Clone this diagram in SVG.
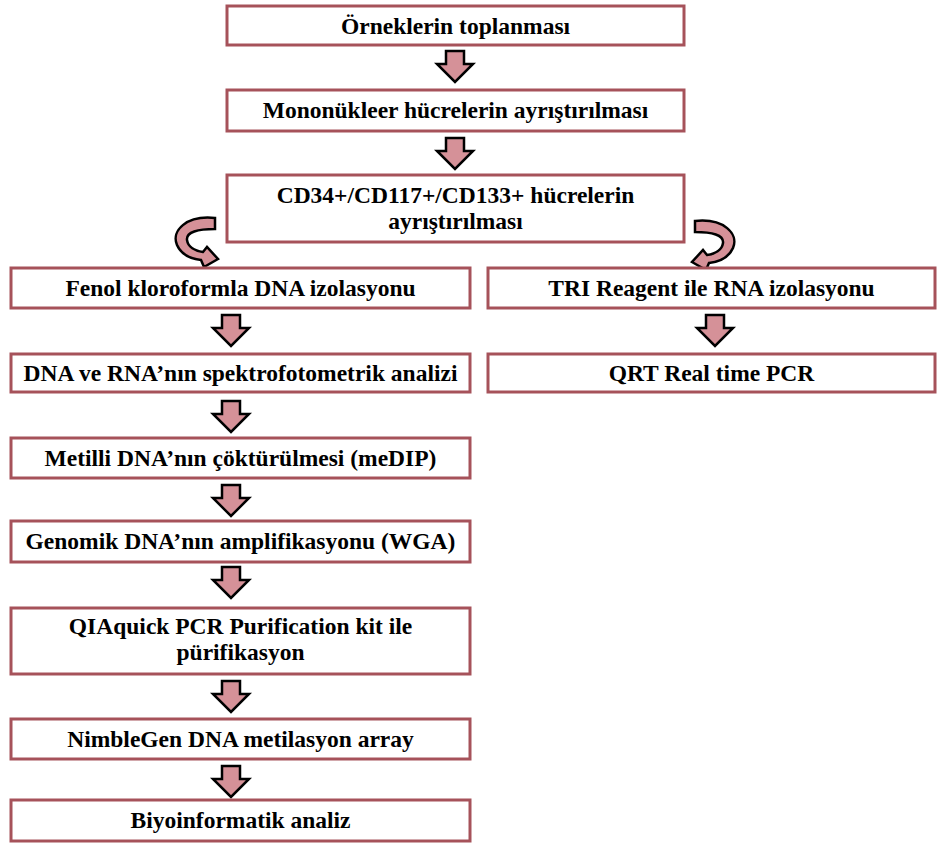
<svg xmlns="http://www.w3.org/2000/svg" xmlns:xlink="http://www.w3.org/1999/xlink" width="939" height="844" viewBox="0 0 939 844">
  <style>
    .box { fill: #ffffff; stroke: #a6525a; stroke-width: 3; }
    .lbl { font-family: "Liberation Serif", "Times New Roman", serif; font-weight: bold; font-size: 23.5px; fill: #000000; text-anchor: middle; }
    .arr { fill: #d59198; stroke: #000000; stroke-width: 2.5; stroke-linejoin: miter; }
  </style>
  <defs>
    <!-- block arrow pointing down, origin at top centre -->
    <path id="down" class="arr" d="M -9 0 H 9 V 13 H 18 L 0 31 L -18 13 H -9 Z"/>
    <!-- C-shaped curved arrow: leaves to the left, sweeps down, tip points right -->
    <path id="curl" class="arr" d="M 215 218 C 186 215 171 231 177 245 C 182 256 192 259 201 260 L 204 267 L 218 259 L 207 247 L 203 252 C 195 251 188 247 187 240 C 186 232 198 229 215 229 Z"/>
  </defs>
  <rect width="939" height="844" fill="#ffffff"/>

  <g id="connectors">
    <use xlink:href="#down" x="455" y="51"/>
    <use xlink:href="#down" x="455" y="138"/>
    <use xlink:href="#curl"/>
    <use xlink:href="#curl" transform="translate(910,3) scale(-1,1)"/>
    <use xlink:href="#down" x="231" y="315"/>
    <use xlink:href="#down" x="715" y="315"/>
    <use xlink:href="#down" x="231" y="401"/>
    <use xlink:href="#down" x="231" y="485"/>
    <use xlink:href="#down" x="231" y="567"/>
    <use xlink:href="#down" x="231" y="681"/>
    <use xlink:href="#down" x="231" y="766"/>
  </g>

  <g id="n-ornek">
    <rect class="box" x="227" y="6" width="457" height="39"/>
    <text class="lbl" x="455.5" y="33.5">Örneklerin toplanması</text>
  </g>
  <g id="n-mononukleer">
    <rect class="box" x="227" y="90" width="457" height="41"/>
    <text class="lbl" x="455.5" y="118">Mononükleer hücrelerin ayrıştırılması</text>
  </g>
  <g id="n-cd34">
    <rect class="box" x="227" y="175" width="457" height="67"/>
    <text class="lbl" x="455.5" y="203">CD34+/CD117+/CD133+ hücrelerin</text>
    <text class="lbl" x="455.5" y="229">ayrıştırılması</text>
  </g>
  <g id="n-fenol">
    <rect class="box" x="11" y="268" width="459" height="40"/>
    <text class="lbl" x="240.5" y="296">Fenol kloroformla DNA izolasyonu</text>
  </g>
  <g id="n-tri">
    <rect class="box" x="488" y="268" width="447" height="40"/>
    <text class="lbl" x="711.5" y="296">TRI Reagent ile RNA izolasyonu</text>
  </g>
  <g id="n-spektro">
    <rect class="box" x="11" y="354" width="459" height="38"/>
    <text class="lbl" x="240.5" y="381">DNA ve RNA’nın spektrofotometrik analizi</text>
  </g>
  <g id="n-qrt">
    <rect class="box" x="488" y="354" width="447" height="38"/>
    <text class="lbl" x="711.5" y="381">QRT Real time PCR</text>
  </g>
  <g id="n-medip">
    <rect class="box" x="11" y="438" width="459" height="40"/>
    <text class="lbl" x="240.5" y="466">Metilli DNA’nın çöktürülmesi (meDIP)</text>
  </g>
  <g id="n-wga">
    <rect class="box" x="11" y="521" width="459" height="41"/>
    <text class="lbl" x="240.5" y="549">Genomik DNA’nın amplifikasyonu (WGA)</text>
  </g>
  <g id="n-qiaquick">
    <rect class="box" x="11" y="608" width="459" height="66"/>
    <text class="lbl" x="240.5" y="634">QIAquick PCR Purification kit ile</text>
    <text class="lbl" x="240.5" y="660">pürifikasyon</text>
  </g>
  <g id="n-nimblegen">
    <rect class="box" x="11" y="719" width="459" height="40"/>
    <text class="lbl" x="240.5" y="747">NimbleGen DNA metilasyon array</text>
  </g>
  <g id="n-biyo">
    <rect class="box" x="11" y="800" width="459" height="41"/>
    <text class="lbl" x="240.5" y="828">Biyoinformatik analiz</text>
  </g>
</svg>
